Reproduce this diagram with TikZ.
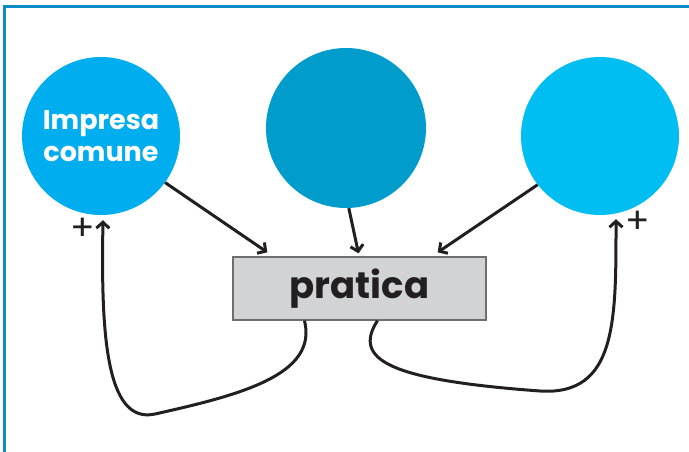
\documentclass[tikz,border=0pt]{standalone}
\usepackage{fontspec}
\newfontfamily\popfont{Poppins}
\usetikzlibrary{arrows.meta}
\definecolor{inkc}{HTML}{231F20}
\definecolor{framec}{HTML}{0A8CC4}
\definecolor{blueA}{HTML}{00AEEF}
\definecolor{blueB}{HTML}{009DCC}
\definecolor{blueC}{HTML}{00BEF2}
\definecolor{boxc}{HTML}{D1D3D4}
\definecolor{boxline}{HTML}{6D6E71}
\begin{document}
\begin{tikzpicture}
[x=1pt,y=-1pt,
blob/.style={circle,minimum size=158pt,inner sep=0pt},
arr/.style={draw=inkc,line width=3pt,-{Straight Barb[length=6pt,width=13pt]}},
sign/.style={text=inkc,font=\popfont\fontsize{36}{36}\selectfont,inner sep=0pt}]
\useasboundingbox (0,0) rectangle (689,452);
\draw[framec,line width=2.5pt] (4.5,452) -- (4.5,6.5) -- (689,6.5);
\node[blob,fill=blueA,text=white,align=center,font=\popfont\bfseries\fontsize{27}{32}\selectfont] (left) at (101,136) {Impresa\\comune};
\node[blob,fill=blueB,minimum size=160pt] (mid) at (346,128) {};
\node[blob,fill=blueC] (right) at (600,136) {};
\node[draw=boxline,fill=boxc,line width=1.3pt,minimum width=253pt,minimum height=63pt,font=\popfont\bfseries\fontsize{37}{37}\selectfont,text=inkc] (prat) at (359.5,288.5) {pratica};
\node[sign] (plusL) at (83,229) {+};
\node[sign] (plusR) at (638,222) {+};
\draw[arr] (left.-36) -- ([shift={(35,-4)}]prat.north west);
\draw[arr] (mid.-88) -- ([shift={(-1,-3)}]prat.north);
\draw[arr] (right.-142) -- ([shift={(-49,-4)}]prat.north east);
% feedback loops
\draw[arr] ([shift={(-55,0)}]prat.south) .. controls (318,375) and (240,395) .. (155,414)
.. controls (105,425) and (101,330) .. ([shift={(2,5)}]left.south);
\draw[arr] ([shift={(18,0)}]prat.south) .. controls (352,360) and (390,380) .. (540,391)
.. controls (617,396) and (616,320) .. ([shift={(16,4)}]right.south);
\end{tikzpicture}
\end{document}
